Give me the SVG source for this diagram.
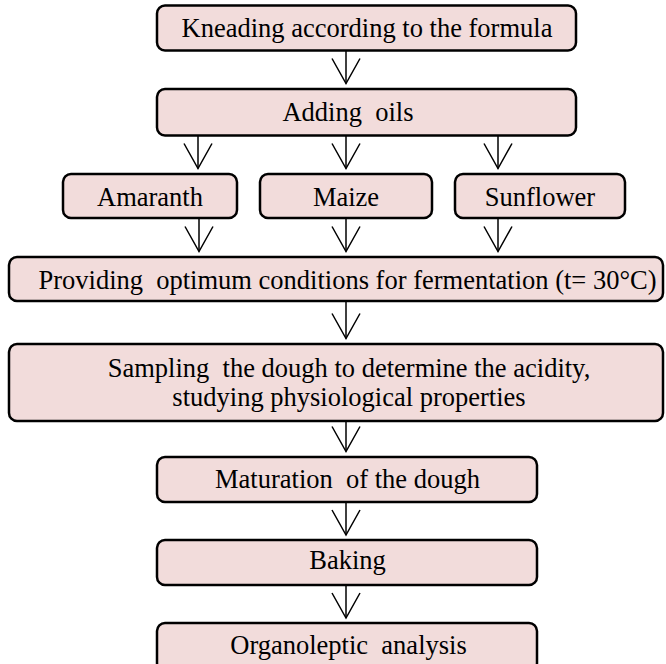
<svg xmlns="http://www.w3.org/2000/svg" width="666" height="664" viewBox="0 0 666 664">
<style>
.box{fill:#f2dcdb;stroke:#000;stroke-width:2.5}
.lbl{font-family:"Liberation Serif","Times New Roman",serif;font-size:26.5px;fill:#000;text-anchor:middle}
.con{stroke:#000;stroke-width:1.5;fill:none}
</style>
<defs>
<marker id="ah" markerUnits="userSpaceOnUse" orient="auto" refX="0" refY="0" markerWidth="30" markerHeight="30" overflow="visible">
<path d="M-25,-14 L0,0 L-25,14" fill="none" stroke="#000" stroke-width="1.5"/>
</marker>
</defs>
<rect width="666" height="664" fill="#fff"/>
<g id="connectors">
<line class="con" x1="346" y1="50.5" x2="346" y2="83.5" marker-end="url(#ah)"/>
<line class="con" x1="198" y1="135.5" x2="198" y2="168.5" marker-end="url(#ah)"/>
<line class="con" x1="346" y1="135.5" x2="346" y2="168.5" marker-end="url(#ah)"/>
<line class="con" x1="498" y1="135.5" x2="498" y2="168.5" marker-end="url(#ah)"/>
<line class="con" x1="199" y1="218" x2="199" y2="251.5" marker-end="url(#ah)"/>
<line class="con" x1="346" y1="218" x2="346" y2="251.5" marker-end="url(#ah)"/>
<line class="con" x1="498" y1="218" x2="498" y2="251.5" marker-end="url(#ah)"/>
<line class="con" x1="346" y1="301" x2="346" y2="338.5" marker-end="url(#ah)"/>
<line class="con" x1="346" y1="421" x2="346" y2="451.5" marker-end="url(#ah)"/>
<line class="con" x1="346" y1="502" x2="346" y2="535" marker-end="url(#ah)"/>
<line class="con" x1="346" y1="585" x2="346" y2="618" marker-end="url(#ah)"/>
</g>
<g id="kneading"><rect class="box" x="157" y="5.5" width="419" height="45" rx="8"/><text class="lbl" x="367" y="36.5">Kneading according to the formula</text></g>
<g id="adding-oils"><rect class="box" x="157" y="89" width="419" height="46.5" rx="8"/><text class="lbl" x="348" y="121" xml:space="preserve">Adding  oils</text></g>
<g id="amaranth"><rect class="box" x="63" y="174" width="174" height="44" rx="8"/><text class="lbl" x="150" y="206">Amaranth</text></g>
<g id="maize"><rect class="box" x="260" y="174" width="172" height="44" rx="8"/><text class="lbl" x="346" y="206">Maize</text></g>
<g id="sunflower"><rect class="box" x="455" y="174" width="170" height="44" rx="8"/><text class="lbl" x="540" y="206">Sunflower</text></g>
<g id="fermentation"><rect class="box" x="9" y="257" width="654" height="44" rx="8"/><text class="lbl" x="347.5" y="289" xml:space="preserve">Providing  optimum conditions for fermentation (t= 30°C)</text></g>
<g id="sampling"><rect class="box" x="9" y="344" width="654" height="77" rx="8"/><text class="lbl" x="349" y="377" xml:space="preserve">Sampling  the dough to determine the acidity,</text><text class="lbl" x="349" y="406">studying physiological properties</text></g>
<g id="maturation"><rect class="box" x="157" y="457" width="380" height="45" rx="8"/><text class="lbl" x="347.5" y="488" xml:space="preserve">Maturation  of the dough</text></g>
<g id="baking"><rect class="box" x="157" y="540" width="380" height="45" rx="8"/><text class="lbl" x="347.5" y="569">Baking</text></g>
<g id="organoleptic"><rect class="box" x="157" y="623" width="380" height="48" rx="8"/><text class="lbl" x="348.5" y="654" xml:space="preserve">Organoleptic  analysis</text></g>
</svg>
